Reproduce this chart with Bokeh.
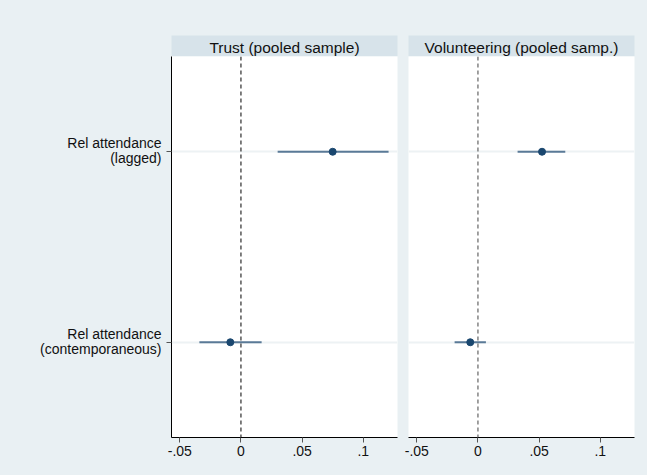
from bokeh.plotting import figure
from bokeh.models import Range1d, FixedTicker, Span, Label, LinearAxis
from bokeh.layouts import column, row
from bokeh.embed import file_html
from bokeh.resources import INLINE

# ---- data ----
terms = ["Rel attendance\n(lagged)", "Rel attendance\n(contemporaneous)"]
positions = [1, 2]
panels = ["Trust (pooled sample)", "Volunteering (pooled samp.)"]
trust_est = [0.075, -0.0087]
trust_lo = [0.030, -0.034]
trust_hi = [0.1207, 0.0169]
vol_est = [0.0524, -0.0063]
vol_lo = [0.0324, -0.0191]
vol_hi = [0.0714, 0.0065]
xticks = [-0.05, 0, 0.05, 0.1]
xtick_labels = ["-.05", "0", ".05", ".1"]
x_start, x_end = -0.0568, 0.128

BG = "#e9f0f3"
STRIP = "#d7e3ea"
FONT = "Liberation Sans"
CI_COLOR = "#5a7a97"
PT_COLOR = "#1a476f"
GRID = "#edf2f4"
LINE_GAP = 0.078  # spacing of the two label lines, in category units
LINE_SHIFT = -0.006

series = [(trust_est, trust_lo, trust_hi), (vol_est, vol_lo, vol_hi)]
borders = [(171, 5), (6, 13)]
widths = [402, 245]

strips = []
mains = []
for i, (title, (est, lo, hi)) in enumerate(zip(panels, series)):
    bl, br = borders[i]
    # strip figure
    s = figure(width=widths[i], height=56, x_range=Range1d(0, 1), y_range=Range1d(0, 1),
               output_backend="svg", toolbar_location=None,
               min_border_left=bl, min_border_right=br, min_border_top=35, min_border_bottom=0)
    s.xaxis.visible = False
    s.yaxis.visible = False
    s.xgrid.visible = False
    s.ygrid.visible = False
    s.outline_line_color = None
    s.background_fill_color = STRIP
    s.border_fill_color = BG
    s.add_layout(Label(x=0.5, y=0.45, text=title, text_align="center", text_baseline="middle",
                       text_font=FONT, text_font_size="15.5px", text_color="#111111"))
    strips.append(s)

    p = figure(width=widths[i], height=419, x_range=Range1d(x_start, x_end),
               y_range=Range1d(2.5, 0.5), output_backend="svg", toolbar_location=None,
               min_border_left=bl, min_border_right=br, min_border_top=0, min_border_bottom=38)
    p.background_fill_color = "white"
    p.border_fill_color = BG
    p.outline_line_color = None
    p.xgrid.visible = False
    p.ygrid.ticker = FixedTicker(ticks=positions)
    p.ygrid.grid_line_color = GRID
    p.ygrid.grid_line_width = 2

    p.xaxis.ticker = FixedTicker(ticks=xticks)
    p.xaxis.major_label_overrides = {t: l for t, l in zip(xticks, xtick_labels)}
    p.xaxis.minor_tick_line_color = None
    p.xaxis.major_tick_out = 5
    p.xaxis.major_tick_in = 0
    p.xaxis.major_tick_line_color = "#555555"
    p.xaxis.axis_line_color = "black"
    p.xaxis.major_label_text_font = FONT
    p.xaxis.major_label_text_font_size = "14px"
    p.xaxis.major_label_text_color = "#111111"
    p.xaxis.major_label_standoff = 3

    if i == 0:
        p.yaxis.ticker = FixedTicker(ticks=positions)
        p.yaxis.minor_tick_line_color = None
        p.yaxis.major_tick_out = 5
        p.yaxis.major_tick_in = 0
        p.yaxis.major_tick_line_color = "#555555"
        p.yaxis.axis_line_color = "black"
        p.yaxis.major_label_text_font_size = "0px"
        p.yaxis.major_label_text_color = None
        p.yaxis.major_label_standoff = 0

        # a second left axis carrying the (right-aligned) label lines
        line_ticks = []
        line_text = {}
        for pos, t in zip(positions, terms):
            lines = t.split("\n")
            n = len(lines)
            for k, line in enumerate(lines):
                yv = round(pos + LINE_SHIFT + (k - (n - 1) / 2) * LINE_GAP, 6)
                line_ticks.append(yv)
                line_text[yv] = line
        lab_ax = LinearAxis(ticker=FixedTicker(ticks=line_ticks),
                            major_label_overrides=line_text)
        lab_ax.axis_line_color = None
        lab_ax.major_tick_line_color = None
        lab_ax.minor_tick_line_color = None
        lab_ax.major_tick_out = 0
        lab_ax.major_tick_in = 0
        lab_ax.major_label_standoff = 5
        lab_ax.major_label_text_font = FONT
        lab_ax.major_label_text_font_size = "14px"
        lab_ax.major_label_text_color = "#111111"
        p.add_layout(lab_ax, "left")
    else:
        p.yaxis.visible = False

    p.add_layout(Span(location=0, dimension="height", line_color="black" if i == 0 else "#444444",
                      line_dash="4 3", line_width=1))
    p.segment(x0=lo, y0=positions, x1=hi, y1=positions, line_color=CI_COLOR, line_width=2)
    p.scatter(x=est, y=positions, size=7, fill_color=PT_COLOR, line_color=PT_COLOR)
    mains.append(p)

bgstyle = {"background-color": BG}
layout = column(row(strips[0], strips[1], styles=bgstyle),
                row(mains[0], mains[1], styles=bgstyle), styles=bgstyle)

open("out.html", "w").write(file_html(layout, INLINE))
